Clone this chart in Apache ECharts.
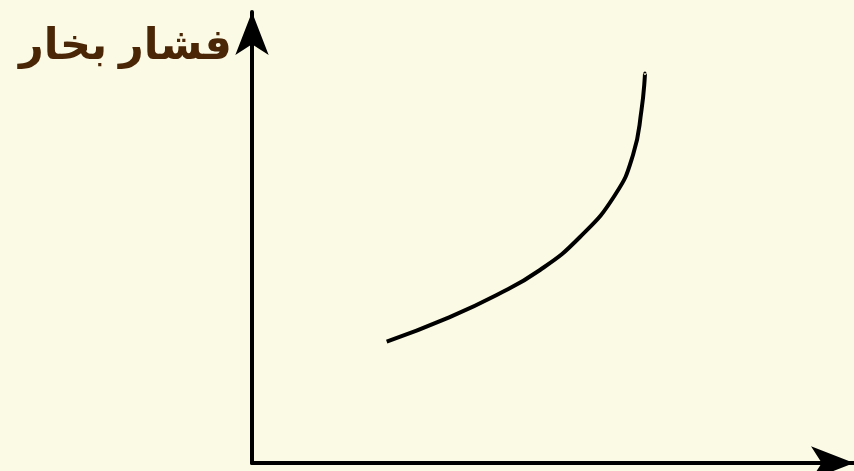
<!DOCTYPE html>
<html>
<head>
<meta charset="utf-8">
<script src="https://cdn.jsdelivr.net/npm/echarts@6/dist/echarts.min.js"></script>
<style>
  html, body { margin: 0; padding: 0; background: #FBFAE4; }
  #main { width: 854px; height: 471px; }
</style>
</head>
<body>
<div id="main"></div>
<script>
// label of the vertical axis (vapour pressure)
const yTitle = 'فشار بخار';

// curve points (arbitrary units, no ticks shown)
const curveX = [134.7, 194.7, 244.7, 288, 328, 363, 381, 389.5, 393];
const curveY = [121.3, 144.7, 168, 193, 226, 268, 308, 353, 389.7];

const xMax = 602;
const yMax = 451;

const chart = echarts.init(document.getElementById('main'));

const points = [];
for (let i = 0; i < curveX.length; i++) {
  points.push([curveX[i], curveY[i]]);
}

const axisLine = {
  show: true,
  symbol: ['none', 'arrow'],
  symbolSize: [25, 43],
  lineStyle: { color: '#000', width: 4 }
};

chart.setOption({
  backgroundColor: '#FBFAE4',
  animation: false,
  title: {
    text: yTitle,
    left: 14,
    top: 21,
    textStyle: {
      fontFamily: 'Arial, "DejaVu Sans", sans-serif',
      fontSize: 43,
      fontWeight: 'bold',
      color: '#4A2606'
    }
  },
  grid: {
    left: 252,
    top: 12,
    right: 0,
    bottom: 8
  },
  xAxis: {
    type: 'value',
    min: 0,
    max: xMax,
    axisLine: axisLine,
    axisTick: { show: false },
    axisLabel: { show: false },
    splitLine: { show: false }
  },
  yAxis: {
    type: 'value',
    min: 0,
    max: yMax,
    axisLine: axisLine,
    axisTick: { show: false },
    axisLabel: { show: false },
    splitLine: { show: false }
  },
  series: [{
    type: 'line',
    data: points,
    smooth: 0.5,
    showSymbol: false,
    lineStyle: { color: '#000', width: 4 }
  }]
});
</script>
</body>
</html>
